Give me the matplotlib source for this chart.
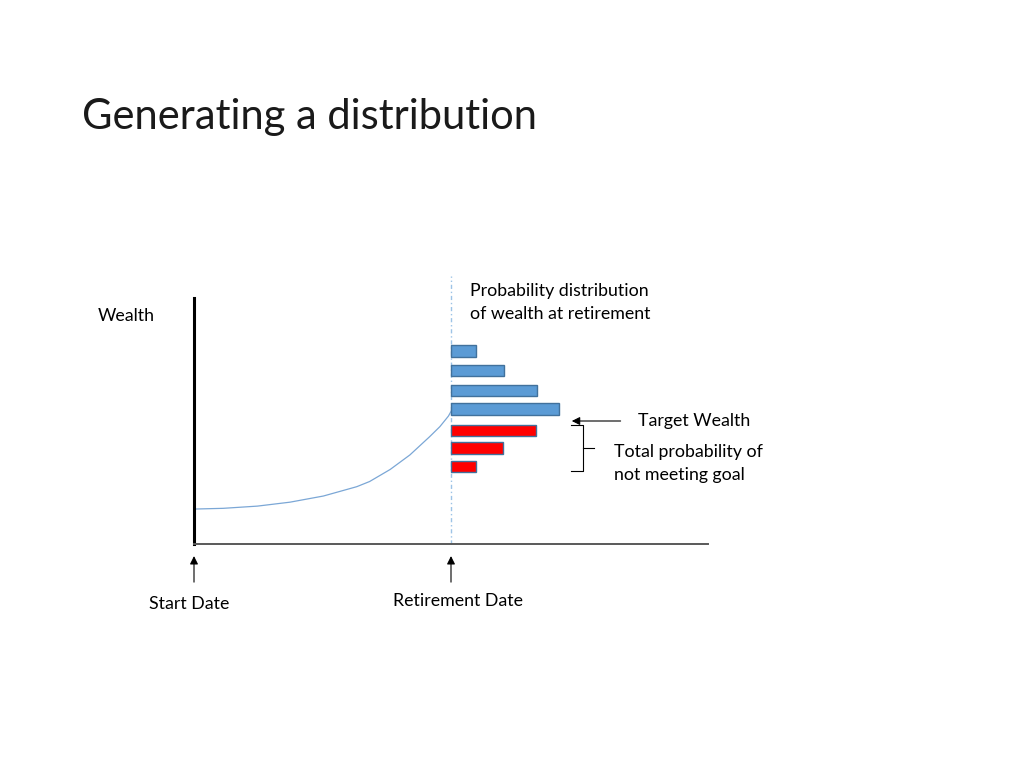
import matplotlib.pyplot as plt

FONT = ['Lato', 'DejaVu Sans']

# wealth path from start date to retirement (years, wealth units)
years = [0, 3.4, 7.4, 11.2, 15.1, 19.0, 20.5, 22.9, 25.2, 27.5, 28.7, 29.7, 30.1]
wealth = [14.2, 14.5, 15.4, 17.0, 19.5, 23.3, 25.4, 30.3, 36.2, 43.6, 47.7, 52.0, 54.5]

# distribution of wealth at retirement
bin_wealth = [78.3, 70.5, 62.4, 54.9, 46.1, 39.0, 31.5]
bin_prob = [5.7, 12.3, 19.8, 24.9, 19.6, 12.1, 5.7]  # percent
below_goal = [False, False, False, False, True, True, True]

RETIRE = 30
TARGET = 50.0
PROB_SCALE = 0.506  # years of axis per percent

fig = plt.figure(figsize=(10.24, 7.68), dpi=100)

def px(x, y):
    return x / 1024, 1 - y / 768

ax = fig.add_axes([194/1024, 1-544/768, 514/1024, 246/768])
ax.set_xlim(0, 60)
ax.set_ylim(0, 100)
ax.set_xticks([])
ax.set_yticks([])
ax.spines['top'].set_visible(False)
ax.spines['right'].set_visible(False)
ax.spines['left'].set_linewidth(2.2)
ax.spines['left'].set_color('black')
ax.spines['bottom'].set_linewidth(1.4)
ax.spines['bottom'].set_color('#595959')

# retirement marker line
ax.plot([RETIRE, RETIRE], [0, 109], color='#9dc3e6', lw=1, ls=(0, (3, 2, 1, 2)),
        clip_on=False, zorder=1)

# wealth curve
ax.plot(years, wealth, color='#7ba7d6', lw=0.9, zorder=2)

# distribution bars
colors = ['#ff0000' if b else '#5b9bd5' for b in below_goal]
ax.barh(bin_wealth, [p * PROB_SCALE for p in bin_prob], left=RETIRE, height=4.8,
        color=colors, edgecolor='#41719c', lw=1, zorder=3)

# target wealth arrow
arrow = dict(arrowstyle='-|>', color='black', lw=0.8, mutation_scale=12,
             shrinkA=0, shrinkB=0)
ax.annotate('', xy=(44.1, TARGET), xytext=(49.8, TARGET),
            arrowprops=arrow, annotation_clip=False)

# brace for shortfall
bx0, bx1, bx2 = 44.0, 45.4, 46.7
ytop, ybot, ymid = 48.3, 29.7, 39.0
ax.plot([bx0, bx1, bx1, bx0], [ytop, ytop, ybot, ybot], color='black', lw=0.8, clip_on=False)
ax.plot([bx1, bx2], [ymid, ymid], color='black', lw=0.8, clip_on=False)

# date arrows
for xd in [0, RETIRE]:
    ax.annotate('', xy=(xd, -4.9), xytext=(xd, -15.5),
                arrowprops=arrow, annotation_clip=False)

# texts
fig.text(*px(82, 117), 'Generating a distribution', fontsize=30, family=FONT,
         va='center', ha='left', color='#1a1a1a')
fs = 12.8
fig.text(*px(98, 316), 'Wealth', fontsize=fs, family=FONT, va='center', ha='left')
fig.text(*px(470, 291), 'Probability distribution', fontsize=fs, family=FONT, va='center', ha='left')
fig.text(*px(470, 314), 'of wealth at retirement', fontsize=fs, family=FONT, va='center', ha='left')
fig.text(*px(638, 421), 'Target Wealth', fontsize=fs, family=FONT, va='center', ha='left')
fig.text(*px(614, 452), 'Total probability of', fontsize=fs, family=FONT, va='center', ha='left')
fig.text(*px(614, 475), 'not meeting goal', fontsize=fs, family=FONT, va='center', ha='left')
fig.text(*px(189, 604), 'Start Date', fontsize=fs, family=FONT, va='center', ha='center')
fig.text(*px(458, 601), 'Retirement Date', fontsize=fs, family=FONT, va='center', ha='center')

plt.savefig('out.png', dpi=100)
